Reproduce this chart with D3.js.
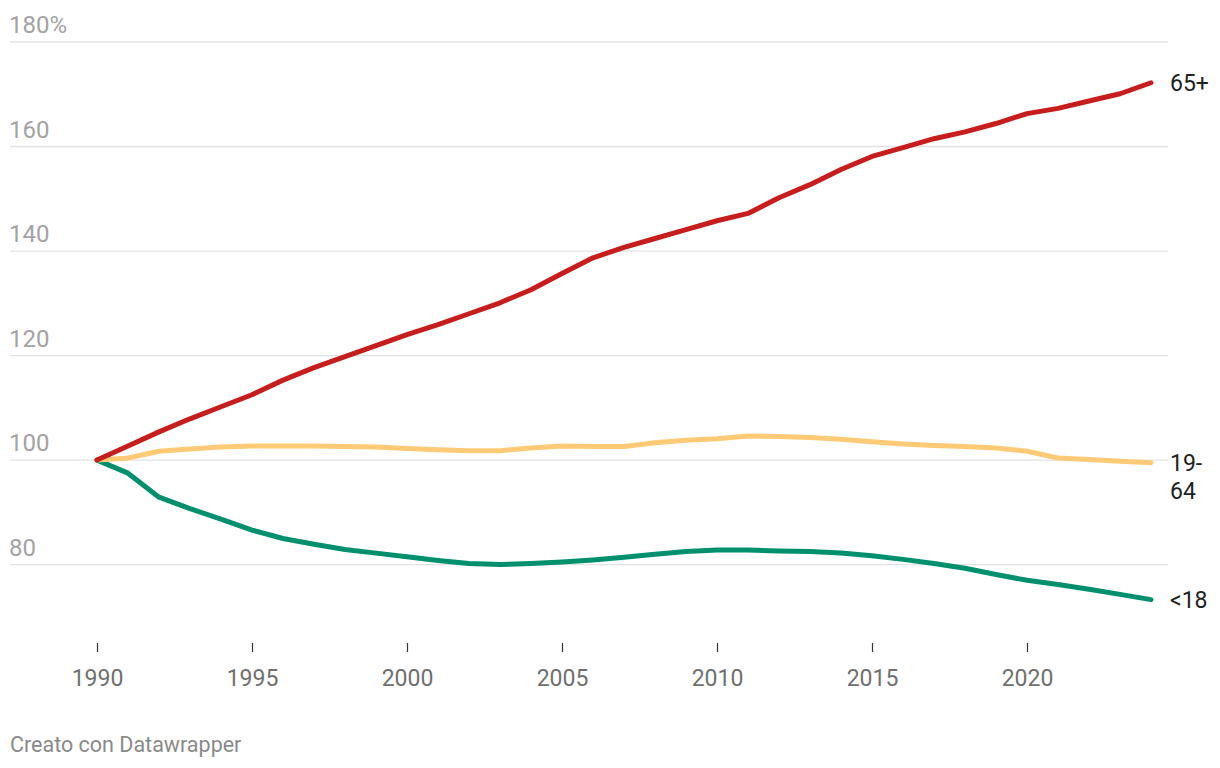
<!DOCTYPE html>
<html>
<head>
<meta charset="utf-8">
<script src="https://cdn.jsdelivr.net/npm/d3@7"></script>
<style>
  body { margin: 0; background: #fff; font-family: Roboto, "Noto Sans", sans-serif; }
  #chart { width: 1220px; height: 768px; }
</style>
</head>
<body>
<div id="chart"></div>
<script>
// Popolazione per fascia d'età, indice 1990 = 100
const years = d3.range(1990, 2025);

const over65 = [100, 102.7, 105.4, 107.9, 110.2, 112.5, 115.3, 117.7, 119.8, 121.9,
  124.0, 125.9, 128.0, 130.1, 132.6, 135.7, 138.7, 140.7, 142.4, 144.1,
  145.8, 147.2, 150.2, 152.7, 155.6, 158.1, 159.8, 161.5, 162.8, 164.4,
  166.3, 167.3, 168.7, 170.1, 172.2];

const age19to64 = [100, 100.4, 101.7, 102.1, 102.5, 102.7, 102.7, 102.7, 102.6, 102.5,
  102.2, 102.0, 101.8, 101.8, 102.3, 102.7, 102.6, 102.6, 103.3, 103.8,
  104.1, 104.6, 104.5, 104.3, 104.0, 103.5, 103.1, 102.8, 102.6, 102.3,
  101.7, 100.4, 100.1, 99.8, 99.5];

const under18 = [100, 97.5, 92.9, 90.7, 88.7, 86.6, 85.0, 83.9, 82.9, 82.2,
  81.5, 80.8, 80.2, 80.0, 80.2, 80.5, 80.9, 81.4, 82.0, 82.5,
  82.8, 82.8, 82.6, 82.5, 82.2, 81.7, 81.0, 80.2, 79.3, 78.1,
  77.0, 76.2, 75.3, 74.3, 73.3];

const seriesNames = ["65+", "19-64", "<18"];
const seriesColors = ["#c71e1d", "#ffca76", "#00906e"];
const yTicks = [80, 100, 120, 140, 160, 180];
const xTicks = [1990, 1995, 2000, 2005, 2010, 2015, 2020];

const series = [over65, age19to64, under18].map((vals, i) => ({
  name: seriesNames[i],
  color: seriesColors[i],
  values: vals.map((v, j) => ({ year: years[j], value: v }))
}));

const width = 1220, height = 768;
const svg = d3.select("#chart").append("svg")
  .attr("width", width)
  .attr("height", height);

const x = d3.scaleLinear().domain([1990, 2024]).range([97, 1151]);
const y = d3.scaleLinear().domain([65, 180]).range([643, 42]);

// griglia orizzontale + etichette
const grid = svg.append("g");
grid.selectAll("line")
  .data(yTicks)
  .enter().append("line")
  .attr("x1", 10).attr("x2", 1168)
  .attr("y1", d => y(d)).attr("y2", d => y(d))
  .attr("stroke", "#e3e3e3")
  .attr("stroke-width", 1.3);

grid.selectAll("text")
  .data(yTicks)
  .enter().append("text")
  .attr("x", 9)
  .attr("y", d => y(d) - 9)
  .attr("fill", "#a3a3a3")
  .style("font-size", "24px")
  .text(d => d === 180 ? d + "%" : d);

// asse x
const xAxis = svg.append("g")
  .attr("transform", "translate(0,643)")
  .call(d3.axisBottom(x).tickValues(xTicks).tickFormat(d3.format("d")).tickSize(9).tickPadding(18));
xAxis.select(".domain").remove();
xAxis.selectAll(".tick line").attr("stroke", "#333").attr("stroke-width", 1.2);
xAxis.selectAll(".tick text")
  .attr("fill", "#707070")
  .style("font-family", "Roboto, sans-serif")
  .style("font-size", "23px");

// linee
const line = d3.line()
  .x(d => x(d.year))
  .y(d => y(d.value));

svg.append("g").selectAll("path")
  .data(series.slice().reverse())
  .enter().append("path")
  .attr("d", d => line(d.values))
  .attr("fill", "none")
  .attr("stroke", d => d.color)
  .attr("stroke-width", 5)
  .attr("stroke-linecap", "round")
  .attr("stroke-linejoin", "round");

// etichette a destra
const labels = svg.append("g");
series.forEach(s => {
  const last = s.values[s.values.length - 1];
  const t = labels.append("text")
    .attr("x", 1170)
    .attr("y", y(last.value) + 8)
    .attr("fill", "#222")
    .style("font-size", "23px");
  if (s.name === "19-64") {
    t.append("tspan").attr("x", 1170).text("19-");
    t.append("tspan").attr("x", 1170).attr("dy", 28).text("64");
  } else {
    t.text(s.name);
  }
});

svg.append("text")
  .attr("x", 10)
  .attr("y", 752)
  .attr("fill", "#8a8a8a")
  .style("font-size", "21.5px")
  .text("Creato con Datawrapper");
</script>
</body>
</html>
